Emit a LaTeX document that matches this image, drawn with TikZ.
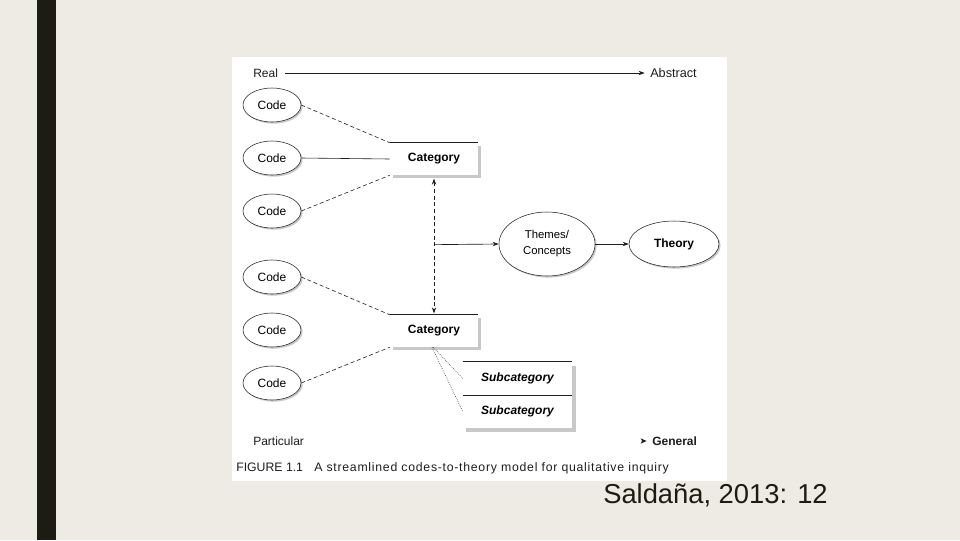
\documentclass[tikz,border=0pt]{standalone}
\usepackage{fontspec}
\setmainfont{Liberation Sans}
\usetikzlibrary{shapes.geometric,arrows.meta,shadows}
\definecolor{bgc}{RGB}{237,235,228}
\definecolor{barc}{RGB}{28,28,18}
\definecolor{shd}{RGB}{200,200,200}
\definecolor{ink}{RGB}{30,30,30}
\tikzset{
  codeell/.style={ellipse, draw=ink, line width=0.4pt, fill=white, minimum width=43.5pt, minimum height=25.5pt, inner sep=0pt, font=\fontsize{9}{10}\selectfont, drop shadow={shadow xshift=1.2pt, shadow yshift=-1.2pt, fill=shd, opacity=1}},
  catbox/.style={rectangle, fill=white, minimum width=66pt, minimum height=24pt, inner sep=0pt, font=\fontsize{9}{10}\selectfont\bfseries, drop shadow={shadow xshift=2.4pt, shadow yshift=-2.4pt, fill=shd, opacity=1}},
  subbox/.style={rectangle, fill=white, minimum width=81.75pt, minimum height=24.75pt, inner sep=0pt, font=\fontsize{9}{10}\selectfont\bfseries\itshape},
  lbl/.style={inner sep=0pt, anchor=west, font=\fontsize{9}{10}\selectfont, text=ink},
  arr/.style={-{Stealth[length=4.5pt,width=3.2pt]}, line width=0.5pt, draw=ink},
  conn/.style={line width=0.45pt, draw=ink},
}
\begin{document}
\begin{tikzpicture}[x=0.75pt,y=-0.75pt]
\fill[bgc] (0,0) rectangle (960,540);
\useasboundingbox (0,0) rectangle (960,540);
\fill[barc] (37,0) rectangle (56,540);
\fill[white] (232,57) rectangle (727,481);

% top axis
\node[lbl] (real) at (253,73) {Real};
\node[lbl, font=\fontsize{9.5}{10}\selectfont] (abstract) at (650,73) {Abstract};
\draw[arr] (real.east) ++(7,0) coordinate (rs) -- ([xshift=-4pt]abstract.west);

% codes
\node[codeell] (c1) at (272,105) {Code};
\node[codeell] (c2) at (272,158) {Code};
\node[codeell] (c3) at (272,211) {Code};
\node[codeell] (c4) at (272,277) {Code};
\node[codeell] (c5) at (272,330) {Code};
\node[codeell] (c6) at (272,383) {Code};

% categories
\node[catbox] (cat1) at (434,159) {Category};
\draw[conn] (cat1.north west) -- (cat1.north east);
\node[catbox] (cat2) at (434,331) {Category};
\draw[conn] (cat2.north west) -- (cat2.north east);

% code to category lines
\draw[conn, densely dashed] (c1.east) -- (cat1.north west);
\draw[conn] (c2.east) -- (cat1.west);
\draw[conn, densely dashed] (c3.east) -- (cat1.south west);
\draw[conn, densely dashed] (c4.east) -- (cat2.north west);
\draw[conn, densely dashed] (c6.east) -- (cat2.south west);

% themes and theory
\node[ellipse, draw=ink, line width=0.4pt, fill=white, minimum width=72pt, minimum height=48pt, inner sep=0pt, align=center, font=\fontsize{8.5}{12}\selectfont, drop shadow={shadow xshift=1.2pt, shadow yshift=-1.2pt, fill=shd, opacity=1}] (themes) at (547,244) {Themes/\\Concepts};
\node[ellipse, draw=ink, line width=0.4pt, fill=white, minimum width=67.5pt, minimum height=34.5pt, inner sep=0pt, font=\fontsize{9}{10}\selectfont\bfseries, drop shadow={shadow xshift=1.2pt, shadow yshift=-1.2pt, fill=shd, opacity=1}] (theory) at (674,244) {Theory};

% vertical dashed double arrow
\draw[conn, densely dashed, {Stealth[length=4.5pt,width=3.2pt]}-{Stealth[length=4.5pt,width=3.2pt]}] ([yshift=-2.5pt]cat1.south) -- coordinate[pos=0.49] (mid) ([yshift=1pt]cat2.north);
\draw[arr] (mid) -- (themes.west);
\draw[arr] (themes.east) -- (theory.west);

% subcategories
\fill[shd] (466,366) rectangle (576,432);
\node[subbox] (s1) at (517.5,378.5) {Subcategory};
\node[subbox] (s2) at (517.5,411.5) {Subcategory};
\draw[conn] (s1.north west) -- (s1.north east);
\draw[conn] (s1.south west) -- (s1.south east);
\draw[conn, densely dotted] ([xshift=-0.5pt]cat2.south) -- (s1.west);
\draw[conn, densely dotted] ([xshift=-1.5pt]cat2.south) -- (s2.west);

% bottom axis
\node[lbl] (particular) at (253,441) {Particular};
\node[lbl, font=\fontsize{9}{10}\selectfont\bfseries] (general) at (652,441) {General};
\fill[ink] ([xshift=-4pt]general.west) -- ++(-6,-2.6) -- ++(1.4,2.6) -- ++(-1.4,2.6) -- cycle;

% caption
\node[lbl, anchor=base west, font=\fontsize{9.2}{10}\selectfont] (figlbl) at (236,471.5) {FIGURE 1.1};
\node[lbl, anchor=base west, font=\fontsize{9.2}{10}\selectfont\addfontfeature{LetterSpace=6}] (caption) at (314,471.5) {A streamlined codes-to-theory model for qualitative inquiry};

% citation
\node[inner sep=0pt, anchor=west, font=\fontsize{20.5}{22}\selectfont, text=barc] (cite) at (603,495) {Saldaña, 2013: 12};
\end{tikzpicture}
\end{document}
